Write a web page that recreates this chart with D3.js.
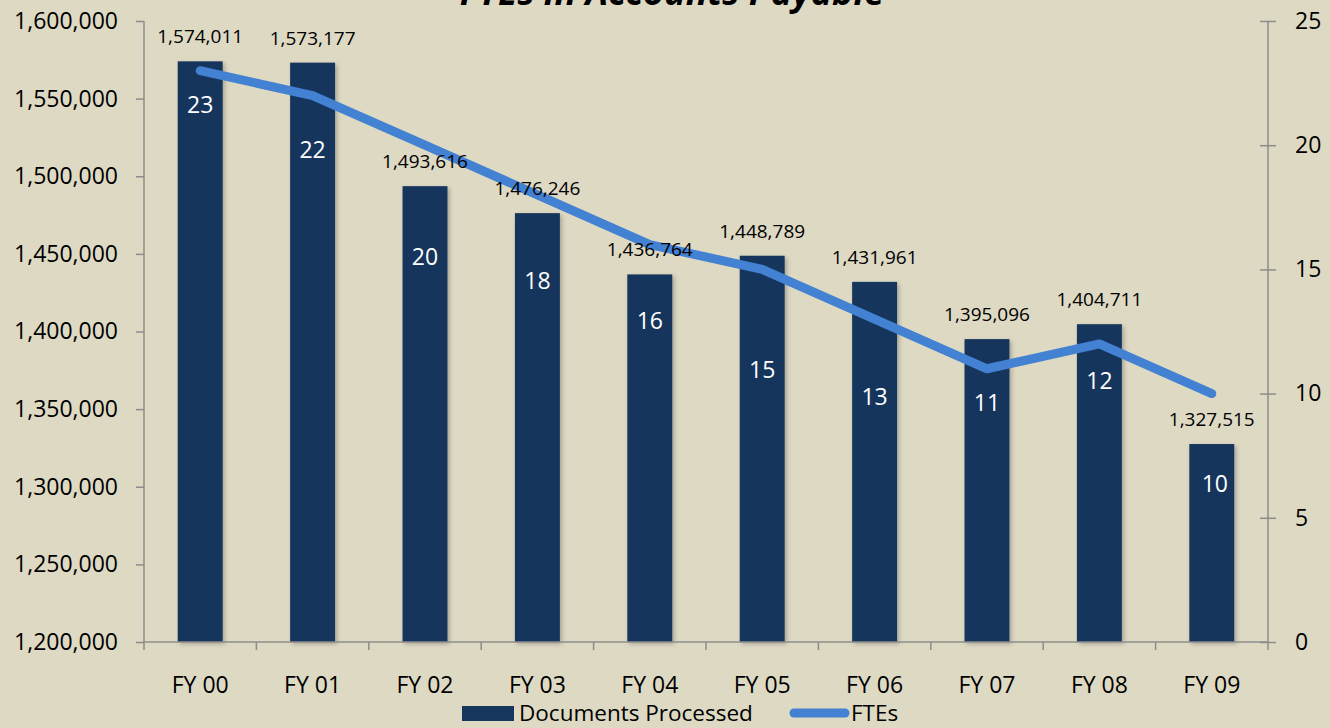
<!DOCTYPE html>
<html>
<head>
<meta charset="utf-8">
<script src="https://cdn.jsdelivr.net/npm/d3@7"></script>
<style>
  body { margin: 0; background: #ddd9c3; }
  svg { display: block; font-family: "Open Sans", sans-serif; }
</style>
</head>
<body>
<div id="chart"></div>
<script>
// data
const years = [`FY 00`, `FY 01`, `FY 02`, `FY 03`, `FY 04`, `FY 05`, `FY 06`, `FY 07`, `FY 08`, `FY 09`];
const documents = [1574011, 1573177, 1493616, 1476246, 1436764, 1448789, 1431961, 1395096, 1404711, 1327515];
const ftes = [23, 22, 20, 18, 16, 15, 13, 11, 12, 10];
const leftTicks = [1200000, 1250000, 1300000, 1350000, 1400000, 1450000, 1500000, 1550000, 1600000];
const rightTicks = [0, 5, 10, 15, 20, 25];

// where the white FTE labels sit below each bar top (layout, px)
const fteLabelDy = [44, 87, 71, 68, 47, 114, 115, 64, 57, 40];
const fteLabelDx = [0, 0, 0, 0, 0, 0, 0, 0, 0, 3];

const width = 1330, height = 728;
const margin = { top: 21, right: 62, bottom: 86, left: 144 };
const font = `"Open Sans", sans-serif`;

const svg = d3.select(`#chart`).append(`svg`)
    .attr(`width`, width)
    .attr(`height`, height);

svg.append(`rect`).attr(`width`, width).attr(`height`, height).attr(`fill`, `#ddd9c3`);

const x = d3.scaleBand()
  .domain(years)
  .range([margin.left, width - margin.right])
  .paddingInner(0.6)
  .paddingOuter(0.3);

const band = d3.scaleBand().domain(years).range([margin.left, width - margin.right]);

const yLeft = d3.scaleLinear()
  .domain([1200000, 1600000])
  .range([height - margin.bottom, margin.top]);

const yRight = d3.scaleLinear()
  .domain([0, 25])
  .range([height - margin.bottom, margin.top]);

const axisColor = `#8c8c8c`;
const fmt = d3.format(`,`);

// shadow for bars
const defs = svg.append(`defs`);
const filter = defs.append(`filter`).attr(`id`, `shadow`).attr(`x`, `-20%`).attr(`y`, `-5%`).attr(`width`, `150%`).attr(`height`, `115%`);
filter.append(`feDropShadow`).attr(`dx`, 2).attr(`dy`, 2).attr(`stdDeviation`, 2).attr(`flood-color`, `#000`).attr(`flood-opacity`, 0.25);

// title (cut off at the top, as in the source)
svg.append(`text`)
  .attr(`x`, 672)
  .attr(`y`, 5)
  .attr(`text-anchor`, `middle`)
  .attr(`font-size`, 36)
  .attr(`font-weight`, `bold`)
  .attr(`font-style`, `italic`)
  .attr(`fill`, `#000`)
  .text(`FTEs in Accounts Payable`);

// bars
svg.append(`g`).selectAll(`rect`)
  .data(documents)
  .join(`rect`)
    .attr(`x`, (d, i) => x(years[i]))
    .attr(`y`, (d) => yLeft(d))
    .attr(`width`, x.bandwidth())
    .attr(`height`, (d) => yLeft(1200000) - yLeft(d))
    .attr(`fill`, `#17365d`)
    .attr(`filter`, `url(#shadow)`);

// left axis
const leftAxis = svg.append(`g`)
  .attr(`transform`, `translate(${margin.left},0)`)
  .call(d3.axisLeft(yLeft).tickValues(leftTicks).tickFormat(fmt).tickSize(8).tickPadding(18));

// right axis
const rightAxis = svg.append(`g`)
  .attr(`transform`, `translate(${width - margin.right},0)`)
  .call(d3.axisRight(yRight).tickValues(rightTicks).tickSize(8).tickPadding(19));
rightAxis.selectAll(`.tick line`).attr(`x1`, -8);

// bottom axis: ticks at band edges
const bottom = svg.append(`g`)
  .attr(`transform`, `translate(0,${height - margin.bottom})`);
bottom.append(`line`)
  .attr(`x1`, margin.left).attr(`x2`, width - margin.right)
  .attr(`stroke`, axisColor).attr(`stroke-width`, 1.5);
bottom.selectAll(`line.tk`)
  .data(years.concat([null]))
  .join(`line`)
    .attr(`class`, `tk`)
    .attr(`x1`, (d, i) => margin.left + i * band.bandwidth())
    .attr(`x2`, (d, i) => margin.left + i * band.bandwidth())
    .attr(`y1`, 0).attr(`y2`, 8)
    .attr(`stroke`, axisColor).attr(`stroke-width`, 1.5);
bottom.selectAll(`text`)
  .data(years)
  .join(`text`)
    .attr(`x`, (d) => band(d) + band.bandwidth() / 2)
    .attr(`y`, 51)
    .attr(`text-anchor`, `middle`)
    .attr(`font-size`, 23)
    .attr(`fill`, `#000`)
    .text((d) => d);

[leftAxis, rightAxis].forEach((g) => {
  g.select(`.domain`).attr(`stroke`, axisColor).attr(`stroke-width`, 1.5);
  g.selectAll(`.tick line`).attr(`stroke`, axisColor).attr(`stroke-width`, 1.5);
  g.selectAll(`.tick text`).attr(`font-size`, 23).attr(`fill`, `#000`).attr(`font-family`, font);
});
leftAxis.select(`.domain`).attr(`d`, `M0,${margin.top}V${height - margin.bottom}`);
rightAxis.select(`.domain`).attr(`d`, `M0,${margin.top}V${height - margin.bottom}`);

// FTE line
const line = d3.line()
  .x((d, i) => band(years[i]) + band.bandwidth() / 2)
  .y((d) => yRight(d));

svg.append(`path`)
  .datum(ftes)
  .attr(`d`, line)
  .attr(`fill`, `none`)
  .attr(`stroke`, `#4381d3`)
  .attr(`stroke-width`, 9)
  .attr(`stroke-linecap`, `round`)
  .attr(`stroke-linejoin`, `round`);

// document labels above bars
svg.append(`g`).selectAll(`text`)
  .data(documents)
  .join(`text`)
    .attr(`x`, (d, i) => band(years[i]) + band.bandwidth() / 2)
    .attr(`y`, (d) => yLeft(d) - 18)
    .attr(`text-anchor`, `middle`)
    .attr(`font-size`, 19)
    .attr(`fill`, `#000`)
    .text(fmt);

// FTE labels (white, inside bars)
svg.append(`g`).selectAll(`text`)
  .data(ftes)
  .join(`text`)
    .attr(`x`, (d, i) => band(years[i]) + band.bandwidth() / 2 + fteLabelDx[i])
    .attr(`y`, (d, i) => yLeft(documents[i]) + fteLabelDy[i] + 8)
    .attr(`text-anchor`, `middle`)
    .attr(`font-size`, 23)
    .attr(`fill`, `#fff`)
    .text((d) => d);

// legend
const legend = svg.append(`g`);
legend.append(`rect`)
  .attr(`x`, 462).attr(`y`, 706).attr(`width`, 52).attr(`height`, 15)
  .attr(`fill`, `#17365d`);
legend.append(`text`)
  .attr(`x`, 519).attr(`y`, 721)
  .attr(`font-size`, 22.5).attr(`fill`, `#000`)
  .text(`Documents Processed`);
legend.append(`line`)
  .attr(`x1`, 794).attr(`x2`, 845).attr(`y1`, 713).attr(`y2`, 713)
  .attr(`stroke`, `#4381d3`).attr(`stroke-width`, 9).attr(`stroke-linecap`, `round`);
legend.append(`text`)
  .attr(`x`, 851).attr(`y`, 721)
  .attr(`font-size`, 22.5).attr(`fill`, `#000`)
  .text(`FTEs`);
</script>
</body>
</html>
